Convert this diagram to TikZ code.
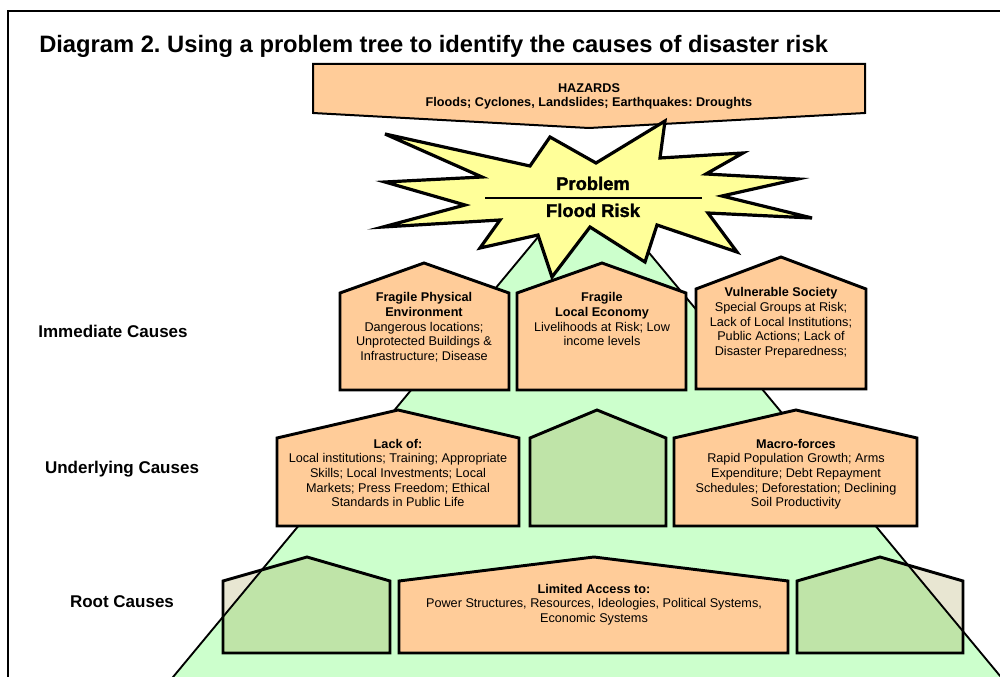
\documentclass[tikz,border=0pt]{standalone}
\usepackage{fontspec}
\setmainfont{Liberation Sans}
\newfontfamily\heavyfont[FakeBold=1.5]{Liberation Sans Bold}
\definecolor{peach}{HTML}{FFCC99}
\definecolor{staryellow}{HTML}{FFFF99}
\definecolor{pyrgreen}{HTML}{CCFFCC}
\definecolor{housegreen}{HTML}{BFE4A8}
\definecolor{beige}{HTML}{E8E6D2}
\newcommand\mlines[1]{\begin{tabular}[t]{@{}c@{}}#1\end{tabular}}
\frenchspacing
\begin{document}
\begin{tikzpicture}[x=0.75pt,y=-0.75pt,
  house/.style={draw=black,line width=2.2pt,line join=miter},
  orangehouse/.style={house,fill=peach},
  body/.style={anchor=base,inner sep=0pt,font=\fontsize{9.5}{11}\selectfont},
  sidelabel/.style={anchor=base,inner sep=0pt,font=\fontsize{12.75}{15}\selectfont\bfseries},
  heavy/.style={anchor=base,inner sep=0pt,font=\fontsize{13.8}{16}\selectfont\heavyfont},
  triline/.style={draw=black,line width=1.4pt}]
\useasboundingbox (0,0) rectangle (1000,677);
\begin{scope}
\clip (0,0) rectangle (1000,677);
% frame
\draw[line width=1.6pt] (8,11) rectangle (1012,700);
% pyramid
\coordinate (apex) at (587,178);
\coordinate (triL) at (154,700);
\coordinate (triR) at (1020,700);
\fill[pyrgreen] (apex) -- (triL) -- (triR) -- cycle;
% root green houses (beige outside, green inside the pyramid)
\fill[beige] (223,653) -- (223,581) -- (307,557) -- (390,581) -- (390,653) -- cycle;
\fill[beige] (797,653) -- (797,581) -- (880,557) -- (963,581) -- (963,653) -- cycle;
\begin{scope}
  \clip (apex) -- (triL) -- (triR) -- cycle;
  \fill[housegreen] (223,653) -- (223,581) -- (307,557) -- (390,581) -- (390,653) -- cycle;
  \fill[housegreen] (797,653) -- (797,581) -- (880,557) -- (963,581) -- (963,653) -- cycle;
\end{scope}
\draw[triline] (triL) -- (apex) -- (triR);
\draw[house] (223,653) -- (223,581) -- (307,557) -- (390,581) -- (390,653) -- cycle;
\draw[house] (797,653) -- (797,581) -- (880,557) -- (963,581) -- (963,653) -- cycle;
% root middle
\draw[orangehouse] (399,653) -- (399,581) -- (594,557) -- (788,581) -- (788,653) -- cycle;
% underlying
\draw[orangehouse] (277,526) -- (277,438) -- (398,410) -- (519,438) -- (519,526) -- cycle;
\draw[house,fill=housegreen] (530,526) -- (530,438) -- (597,410) -- (666,438) -- (666,526) -- cycle;
\draw[orangehouse] (674,526) -- (674,438) -- (796,410) -- (917,438) -- (917,526) -- cycle;
% immediate
\draw[orangehouse] (340,390) -- (340,293) -- (424,263) -- (509,293) -- (509,390) -- cycle;
\draw[orangehouse] (517,390) -- (517,293) -- (602,263) -- (686,293) -- (686,390) -- cycle;
\draw[orangehouse] (696,389) -- (696,289) -- (781,257) -- (866,289) -- (866,389) -- cycle;
% hazards
\draw[line width=1.5pt,fill=peach,line join=miter] (313,64) -- (865,64) -- (865,113) -- (589,128) -- (313,113) -- cycle;
% star
\draw[line width=2.4pt,fill=staryellow,line join=miter]
  (385,134) -- (530,166) -- (550,137) -- (596,163) -- (665,121) -- (660,158)
  -- (743,153) -- (706,174) -- (798,179) -- (722,196) -- (812,218) -- (708,213)
  -- (737,252) -- (657,225) -- (645,262) -- (590,227) -- (552,277) -- (538,235)
  -- (480,248) -- (500,220) -- (383,227) -- (465,205) -- (385,182) -- (482,177) -- cycle;
\coordinate (divL) at (485,198);
\coordinate (divR) at (702,198);
\draw[line width=1.6pt] (divL) -- (divR);
\end{scope}
% texts
\node[anchor=base west,inner sep=0pt,font=\fontsize{17.8}{20}\selectfont\bfseries] (title) at (39,53)
  {Diagram 2. Using a problem tree to identify the causes of disaster risk};
\node[body,font=\fontsize{9.5}{10.5}\selectfont\bfseries] (hazards) at (589,93)
  {\mlines{HAZARDS\\Floods; Cyclones, Landslides; Earthquakes: Droughts}};
\node[heavy] (problem) at (593,190) {Problem};
\node[heavy] (floodrisk) at (593,217) {Flood Risk};
\node[body] (fragphys) at (424,302) {\mlines{\textbf{Fragile Physical}\\\textbf{Environment}\\Dangerous locations;\\Unprotected Buildings \&\\Infrastructure; Disease}};
\node[body] (fragecon) at (602,302) {\mlines{\textbf{Fragile}\\\textbf{Local Economy}\\Livelihoods at Risk; Low\\income levels}};
\node[body] (vulsoc) at (781,297) {\mlines{\textbf{Vulnerable Society}\\Special Groups at Risk;\\Lack of Local Institutions;\\Public Actions; Lack of\\Disaster Preparedness;}};
\node[body] (lackof) at (398,448) {\mlines{\textbf{Lack of:}\\Local institutions; Training; Appropriate\\Skills; Local Investments; Local\\Markets; Press Freedom; Ethical\\Standards in Public Life}};
\node[body] (macro) at (796,448) {\mlines{\textbf{Macro-forces}\\Rapid Population Growth; Arms\\Expenditure; Debt Repayment\\Schedules; Deforestation; Declining\\Soil Productivity}};
\node[body] (limited) at (594,593) {\mlines{\textbf{Limited Access to:}\\Power Structures, Resources, Ideologies, Political Systems,\\Economic Systems}};
\node[sidelabel] (immediate) at (113,338) {Immediate Causes};
\node[sidelabel] (underlying) at (122,473) {Underlying Causes};
\node[sidelabel] (root) at (122,607) {Root Causes};
\end{tikzpicture}
\end{document}
